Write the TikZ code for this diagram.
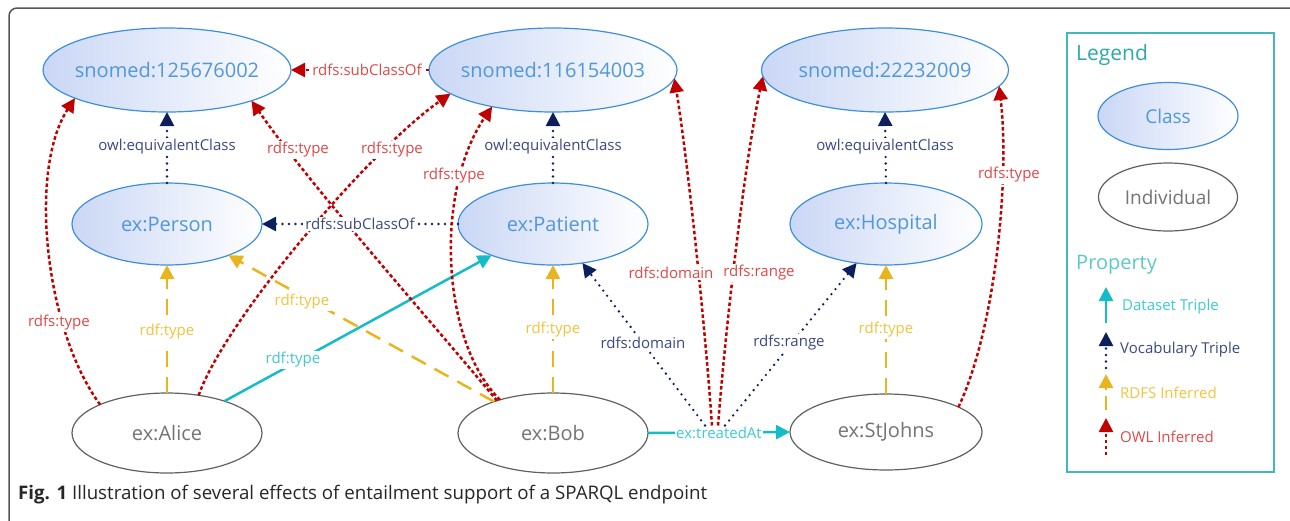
\documentclass[tikz,border=0pt]{standalone}
\usepackage{fontspec}
\setmainfont{Open Sans}
\usetikzlibrary{arrows.meta,shapes.geometric}
\definecolor{clsline}{HTML}{3D8FDB}
\definecolor{clstext}{HTML}{5097DC}
\definecolor{clsfill}{HTML}{CAD7F5}
\definecolor{clsmid}{HTML}{F0F4FC}
\definecolor{indline}{HTML}{606060}
\definecolor{indtext}{HTML}{747474}
\definecolor{owlline}{HTML}{C00000}
\definecolor{owltext}{HTML}{E04848}
\definecolor{vocline}{HTML}{0B1F5C}
\definecolor{voctext}{HTML}{3A4A80}
\definecolor{rdfsline}{HTML}{E8B520}
\definecolor{rdfstext}{HTML}{F0C43C}
\definecolor{dsline}{HTML}{14BCC8}
\definecolor{dstext}{HTML}{3CCAD4}
\definecolor{legline}{HTML}{40B8BE}
\definecolor{legtext}{HTML}{2BA8A8}
\definecolor{proptext}{HTML}{5CC8C8}
\definecolor{frameline}{HTML}{555555}
\newcommand\ztxt[1]{\makebox[0pt]{#1}}
\tikzset{
  cls/.style={ellipse, draw=clsline, line width=1.2pt, left color=clsfill, middle color=clsmid, right color=white,
    text=clstext, inner sep=0pt, outer sep=0pt, font=\fontsize{20}{24}\selectfont},
  ind/.style={ellipse, draw=indline, line width=1.2pt, fill=white,
    text=indtext, inner sep=0pt, outer sep=0pt, font=\fontsize{20}{24}\selectfont},
  tipped/.style={-{Triangle[length=14pt,width=14pt]}},
  owl/.style={tipped, draw=owlline, line width=2.5pt, dash pattern=on 3.5pt off 2.5pt},
  voc/.style={tipped, draw=vocline, line width=2.6pt, line cap=round, dash pattern=on 0pt off 6.5pt},
  rdfs/.style={tipped, draw=rdfsline, line width=2.5pt, dash pattern=on 16pt off 10pt},
  ds/.style={tipped, draw=dsline, line width=2.5pt},
  lbl/.style={fill=white, inner sep=1.5pt, font=\fontsize{15}{18}\selectfont},
  owllbl/.style={lbl, text=owltext},
  voclbl/.style={lbl, text=voctext},
  rdfslbl/.style={lbl, text=rdfstext},
  dslbl/.style={lbl, text=dstext},
  legitem/.style={anchor=west, inner sep=0pt, font=\fontsize{15}{18}\selectfont},
}
\begin{document}
\begin{tikzpicture}[x=1pt,y=-1pt]
\useasboundingbox (0,0) rectangle (1290,520);
% outer frame
\draw[frameline, line width=1.5pt, rounded corners=8pt] (9,530) -- (9,8) -- (1300,8);

% classes
\node[cls, minimum width=248pt, minimum height=84pt] (s1) at (167,70) {\ztxt{snomed:125676002}};
\node[cls, minimum width=248pt, minimum height=84pt] (s2) at (553,70) {\ztxt{snomed:116154003}};
\node[cls, minimum width=247pt, minimum height=84pt] (s3) at (885,70) {\ztxt{snomed:22232009}};
\node[cls, minimum width=190pt, minimum height=82pt] (person) at (167,224) {\ztxt{ex:Person}};
\node[cls, minimum width=190pt, minimum height=82pt] (patient) at (553,224) {\ztxt{ex:Patient}};
\node[cls, minimum width=192pt, minimum height=82pt] (hospital) at (886,224) {\ztxt{ex:Hospital}};
% individuals
\node[ind, minimum width=190pt, minimum height=80pt] (alice) at (167,433) {\ztxt{ex:Alice}};
\node[ind, minimum width=190pt, minimum height=80pt] (bob) at (553,433) {\ztxt{ex:Bob}};
\node[ind, minimum width=192pt, minimum height=76pt] (stjohns) at (886,432) {\ztxt{ex:StJohns}};

% dataset triples
\draw[ds] (bob.east) -- (stjohns.west);
\node[dslbl] (ta) at (719,433) {ex:treatedAt};
\draw[ds] (alice.29) -- (patient.207.6);

% vocabulary triples
\draw[voc] (person.north) -- (s1.south);
\draw[voc] (patient.north) -- (s2.south);
\draw[voc] (hospital.north) -- (s3.south);
\draw[voc] (patient.west) -- (person.east);
\draw[voc] ([xshift=-14pt]ta.north) -- (patient.-53.5);
\draw[voc] ([xshift=6pt]ta.north) -- (hospital.233.5);

% RDFS inferred
\draw[rdfs] (alice.north) -- (person.south);
\draw[rdfs] (bob.north) -- (patient.south);
\draw[rdfs] (stjohns.north) -- (hospital.south);
\draw[rdfs] (bob.152) -- (person.-27.3);

% OWL inferred
\draw[owl] (s2.west) -- (s1.east);
\draw[owl] ([xshift=-7pt]ta.north) .. controls (703,300) and (686,150) .. (s2.-4);
\draw[owl] ([xshift=-1pt]ta.north) .. controls (728,300) and (747,150) .. (s3.183);
\draw[owl] (alice.157) .. controls (45,330) and (28,170) .. (s1.197);
\draw[owl] (alice.50) .. controls (225,320) and (370,150) .. (s2.193);
\draw[owl] (bob.150.6) .. controls (430,320) and (310,185) .. (s1.-20);
\draw[owl] (bob.148.7) .. controls (440,340) and (435,190) .. (s2.-149.5);
\draw[owl] (stjohns.19.9) .. controls (995,330) and (1010,180) .. (s3.-8.7);

% labels
\node[owllbl] (l1) at (367,70) {rdfs:subClassOf};
\node[voclbl] (l2) at (167,147) {owl:equivalentClass};
\node[voclbl] (l3) at (553,147) {owl:equivalentClass};
\node[voclbl] (l4) at (885,147) {owl:equivalentClass};
\node[voclbl] (l5) at (360,224) {rdfs:subClassOf};
\node[rdfslbl] (l6) at (167,332) {rdf:type};
\node[rdfslbl] (l7) at (553,330) {rdf:type};
\node[rdfslbl] (l8) at (886,330) {rdf:type};
\node[rdfslbl] (l9) at (302,302) {rdf:type};
\node[dslbl] (l10) at (293,360) {rdf:type};
\node[voclbl] (l11) at (643,343) {rdfs:domain};
\node[voclbl] (l12) at (789,343) {rdfs:range};
\node[owllbl] (l13) at (671,273) {rdfs:domain};
\node[owllbl] (l14) at (759,273) {rdfs:range};
\node[owllbl] (l15) at (59,323) {rdfs:type};
\node[owllbl] (l16) at (298,150) {rdfs:type};
\node[owllbl] (l17) at (392,150) {rdfs:type};
\node[owllbl] (l18) at (454,176) {rdfs:type};
\node[owllbl] (l19) at (1009,175) {rdfs:type};

% legend
\node[draw=legline, line width=1.2pt, minimum width=207pt, minimum height=439pt, inner sep=0pt] (legend) at (1170.5,252.5) {};
\node[anchor=west, inner sep=0pt, text=legtext, font=\fontsize{21}{24}\selectfont] (legtitle) at (1076,55) {Legend};
\node[cls, minimum width=140pt, minimum height=67pt, font=\fontsize{19}{22}\selectfont] (legcls) at (1168,116) {\ztxt{Class}};
\node[ind, minimum width=139pt, minimum height=68pt, font=\fontsize{19}{22}\selectfont] (legind) at (1168,197) {\ztxt{Individual}};
\node[anchor=west, inner sep=0pt, text=proptext, font=\fontsize{20}{24}\selectfont] (legprop) at (1076,265) {Property};
\coordinate (d1) at (1106,323); \coordinate (d2) at (1106,287);
\coordinate (v1) at (1106,368); \coordinate (v2) at (1106,332);
\coordinate (r1) at (1106,410); \coordinate (r2) at (1106,374);
\coordinate (o1) at (1106,455); \coordinate (o2) at (1106,418);
\draw[ds] (d1) -- (d2);
\draw[voc] (v1) -- (v2);
\draw[rdfs, dash pattern=on 14pt off 6pt] (r1) -- (r2);
\draw[owl] (o1) -- (o2);
\node[legitem, text=dstext] (t1) at (1122,307) {Dataset Triple};
\node[legitem, text=voctext] (t2) at (1120,350) {Vocabulary Triple};
\node[legitem, text=rdfstext] (t3) at (1120,393) {RDFS Inferred};
\node[legitem, text=owltext] (t4) at (1120,437) {OWL Inferred};

% caption
\node[anchor=west, inner sep=0pt, text=black!85, font=\fontsize{18.7}{22}\selectfont] (cap) at (18,495)
  {\textbf{Fig. 1} Illustration of several effects of entailment support of a SPARQL endpoint};
\end{tikzpicture}
\end{document}
